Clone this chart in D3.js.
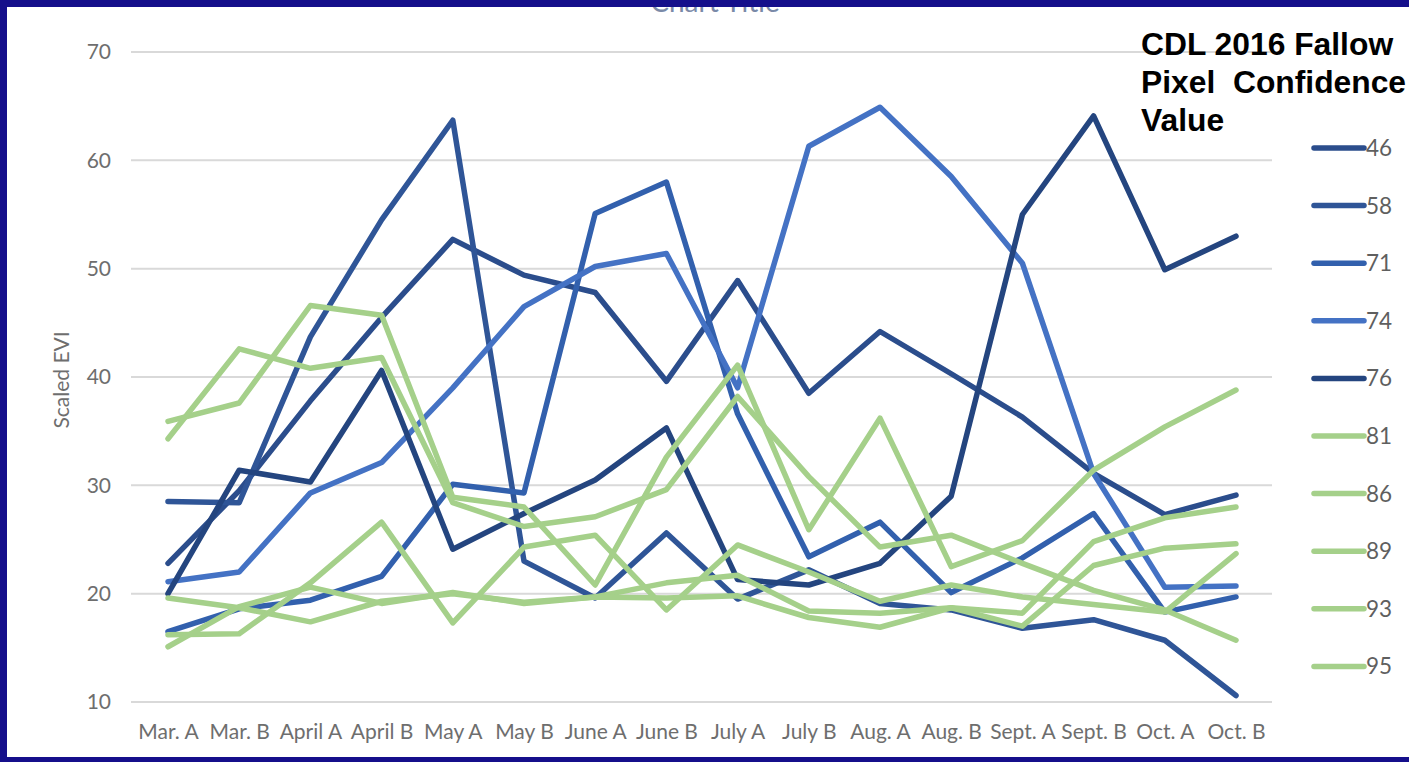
<!DOCTYPE html>
<html><head><meta charset="utf-8">
<script src="https://cdn.jsdelivr.net/npm/d3@7"></script>
<style>
html,body{margin:0;padding:0;background:#fff;}
svg{display:block;}
</style></head>
<body>
<svg id="chart" width="1409" height="762"></svg>
<script>
const categories = ["Mar. A","Mar. B","April A","April B","May A","May B","June A","June B","July A","July B","Aug. A","Aug. B","Sept. A","Sept. B","Oct. A","Oct. B"];
const seriesNames = ["46","58","71","74","76","81","86","89","93","95"];
const yTicks = [10,20,30,40,50,60,70];

const s46 = [22.8,29.5,37.8,45.5,52.7,49.4,47.8,39.6,48.9,38.5,44.2,40.3,36.3,31.1,27.3,29.1];
const s58 = [28.5,28.4,43.7,54.5,63.7,23.0,19.6,25.6,19.5,22.2,19.1,18.5,16.8,17.6,15.7,10.6];
const s71 = [16.5,18.6,19.4,21.6,30.1,29.3,55.1,58.0,36.6,23.4,26.6,20.1,23.3,27.4,18.3,19.7];
const s74 = [21.1,22.0,29.3,32.1,39.0,46.5,50.2,51.4,39.0,61.3,64.9,58.5,50.5,31.1,20.6,20.7];
const s76 = [20.0,31.4,30.3,40.6,24.1,27.4,30.5,35.3,21.3,20.8,22.8,29.0,55.0,64.1,49.9,53.0];
const s81 = [35.9,37.6,46.6,45.7,28.9,28.0,20.8,32.6,41.1,25.9,36.2,22.5,24.9,31.4,35.4,38.8];
const s86 = [34.3,42.6,40.8,41.8,28.4,26.2,27.1,29.6,38.2,30.8,24.3,25.4,22.8,20.3,18.5,15.7];
const s89 = [19.6,18.7,17.4,19.3,20.0,19.2,19.7,21.0,21.7,18.4,18.2,18.7,18.2,24.8,27.0,28.0];
const s93 = [16.2,16.3,21.0,26.6,17.3,24.3,25.4,18.5,24.5,22.0,19.3,20.8,19.7,19.0,18.3,23.7];
const s95 = [15.1,18.8,20.6,19.1,20.1,19.1,19.7,19.6,19.8,17.8,16.9,18.7,17.0,22.6,24.2,24.6];

const seriesValues = [s46,s58,s71,s74,s76,s81,s86,s89,s93,s95];
const seriesColors = ["#2b4d8c","#2f5597","#3260ad","#4472c4","#24457f","#a5d08a","#a5d08a","#a5d08a","#a5d08a","#a5d08a"];

const svg = d3.select("#chart");
const x = d3.scalePoint().domain(categories).range([168,1236]);
const y = d3.scaleLinear().domain([10,70]).range([702,52]);
const plotL = 131, plotR = 1272;
const font = "Lato, sans-serif";

// gridlines
svg.append("g").selectAll("line").data(yTicks).join("line")
  .attr("x1",plotL).attr("x2",plotR)
  .attr("y1",d=>y(d)).attr("y2",d=>y(d))
  .attr("stroke","#d9d9d9").attr("stroke-width",2);

// y axis labels
const yAxis = svg.append("g").attr("transform",`translate(111,0)`)
  .call(d3.axisLeft(y).tickValues(yTicks).tickSize(0).tickPadding(0));
yAxis.select(".domain").remove();
yAxis.selectAll("text").attr("font-family",font).attr("font-size",21).attr("fill","#6e6e6e");

// x axis labels
const xAxis = svg.append("g").attr("transform",`translate(0,${y(10)+12})`)
  .call(d3.axisBottom(x).tickSize(0).tickPadding(10));
xAxis.select(".domain").remove();
xAxis.selectAll("text").attr("font-family",font).attr("font-size",21).attr("fill","#6e6e6e");

// y title
svg.append("text").attr("transform","translate(69,380) rotate(-90)")
  .attr("text-anchor","middle").attr("font-family",font)
  .attr("font-size",21).attr("fill","#6e6e6e").text("Scaled EVI");

// lines
const line = d3.line().x((d,i)=>x(categories[i])).y(d=>y(d));
svg.append("g").selectAll("path").data(seriesValues).join("path")
  .attr("d",d=>line(d)).attr("fill","none")
  .attr("stroke",(d,i)=>seriesColors[i]).attr("stroke-width",5.5)
  .attr("stroke-linejoin","round").attr("stroke-linecap","round");

// legend
const lg = svg.append("g");
seriesNames.forEach((n,i)=>{
  const ly = 148 + i*57.6;
  lg.append("line").attr("x1",1314).attr("x2",1364).attr("y1",ly).attr("y2",ly)
    .attr("stroke",seriesColors[i]).attr("stroke-width",5.5).attr("stroke-linecap","round");
  lg.append("text").attr("x",1366).attr("y",ly+8).attr("font-family",font)
    .attr("font-size",22.5).attr("fill","#5f5f5f").text(n);
});

// legend title
const titleLines = ["CDL 2016 Fallow","Pixel  Confidence","Value"];
svg.append("g").selectAll("text").data(titleLines).join("text")
  .attr("x",1141).attr("y",(d,i)=>55+i*38)
  .attr("font-family","'Liberation Sans', Arial, sans-serif").attr("font-weight","bold")
  .attr("font-size",31.8).attr("fill","#000").style("white-space","pre").text(d=>d);

// chart title (cut off by the slide border, as in the source)
svg.append("text").attr("x",715).attr("y",12).attr("text-anchor","middle")
  .attr("font-family",font).attr("font-size",28).attr("fill","#7a8aa8").text("Chart Title");

// slide border
svg.append("rect").attr("x",0).attr("y",0).attr("width",1409).attr("height",7).attr("fill","#150f8b");
svg.append("rect").attr("x",0).attr("y",0).attr("width",7).attr("height",762).attr("fill","#150f8b");
svg.append("rect").attr("x",0).attr("y",757).attr("width",1409).attr("height",5).attr("fill","#150f8b");
</script>
</body></html>
